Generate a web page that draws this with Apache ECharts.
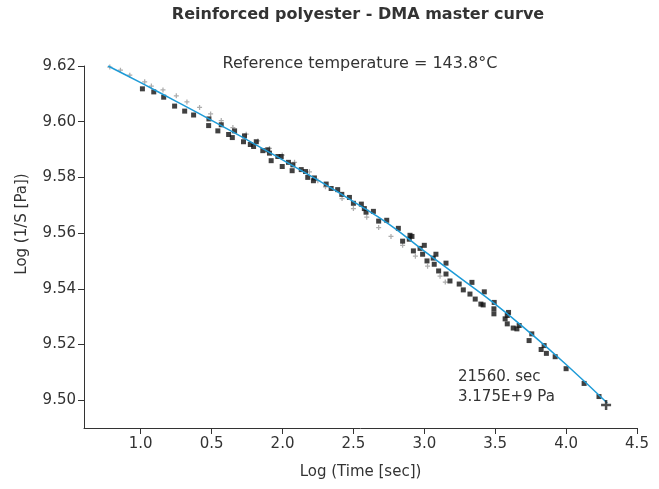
<!DOCTYPE html>
<html>
<head>
<meta charset="utf-8">
<script src="https://cdn.jsdelivr.net/npm/echarts@6/dist/echarts.min.js"></script>
<style>
  html,body{margin:0;padding:0;background:#fff;}
  #chart{width:659px;height:489px;}
</style>
</head>
<body>
<div id="chart"></div>
<script>
// tick labels (the second x label really reads 0.5 in the original)
const xTicks=[1.0,1.5,2.0,2.5,3.0,3.5,4.0,4.5];
const xTickLabels=['1.0','0.5','2.0','2.5','3.0','3.5','4.0','4.5'];
const yTicks=[9.50,9.52,9.54,9.56,9.58,9.60,9.62];

// master curve fit
const fitX=[0.77,1.0,1.25,1.5,1.75,2.0,2.25,2.5,2.75,3.0,3.25,3.5,3.75,4.0,4.29];
const fitY=[9.6200,9.6140,9.6073,9.6005,9.5935,9.5863,9.5790,9.5713,9.5632,9.5535,9.5440,9.5345,9.5240,9.5128,9.4990];

// measured points (squares)
const sqX=[1.012,1.092,1.162,1.239,1.310,1.373,1.481,1.479,1.544,1.568,1.620,1.646,1.662,1.732,1.725,1.773,1.796,1.815,1.861,1.896,
  1.908,1.920,1.967,1.991,1.998,2.042,2.073,2.068,2.132,2.162,2.178,2.225,2.218,2.308,2.343,2.389,2.418,2.472,2.500,2.556,
  2.577,2.589,2.641,2.678,2.735,2.817,2.847,2.899,2.913,2.894,2.923,2.970,3.000,2.988,3.019,3.063,3.082,3.070,3.101,3.153,
  3.153,3.181,3.246,3.275,3.322,3.336,3.359,3.399,3.415,3.423,3.493,3.491,3.491,3.570,3.585,3.594,3.585,3.627,3.653,3.669,
  3.739,3.758,3.824,3.845,3.861,3.923,4.000,4.127,4.232];
const sqY=[9.6118,9.6107,9.6088,9.6056,9.6038,9.6024,9.6010,9.5986,9.5967,9.5989,9.5954,9.5943,9.5967,9.5949,9.5928,9.5918,9.5911,9.5928,9.5896,9.5899,
  9.5887,9.5860,9.5875,9.5875,9.5839,9.5854,9.5845,9.5824,9.5828,9.5821,9.5800,9.5798,9.5788,9.5776,9.5760,9.5756,9.5739,9.5728,9.5707,9.5704,
  9.5688,9.5675,9.5678,9.5643,9.5646,9.5617,9.5571,9.5592,9.5588,9.5578,9.5536,9.5545,9.5556,9.5524,9.5500,9.5510,9.5524,9.5488,9.5464,9.5492,
  9.5453,9.5428,9.5417,9.5396,9.5381,9.5423,9.5363,9.5345,9.5342,9.5389,9.5351,9.5328,9.5310,9.5292,9.5304,9.5315,9.5274,9.5259,9.5256,9.5268,
  9.5214,9.5238,9.5182,9.5196,9.5168,9.5156,9.5113,9.5060,9.5013];

// shifted points (grey crosses)
const crX=[0.782,0.857,0.923,1.028,1.075,1.157,1.251,1.326,1.415,1.493,1.568,1.650,1.744,1.826,1.908,1.998,2.085,2.190,2.249,2.303,
  2.420,2.500,2.594,2.678,2.765,2.847,2.937,3.023,3.111,3.148];
const crY=[9.6196,9.6185,9.6167,9.6143,9.6128,9.6114,9.6093,9.6071,9.6051,9.6028,9.6004,9.5979,9.5955,9.5931,9.5904,9.5880,9.5854,9.5820,9.5788,9.5766,
  9.5724,9.5688,9.5657,9.5620,9.5588,9.5556,9.5517,9.5481,9.5445,9.5424];

// reference point
const refX=[4.282];
const refY=[9.4983];

function pairs(xs,ys){ return xs.map((x,i)=>[x,ys[i]]); }

const font='"DejaVu Sans", Verdana, sans-serif';
const plus='path://M-1,-4H1V-1H4V1H1V4H-1V1H-4V-1H-1Z';

const chart=echarts.init(document.getElementById('chart'),null,{renderer:'canvas'});
const option={
  animation:false,
  backgroundColor:'#fff',
  textStyle:{fontFamily:font},
  grid:{left:84,right:22,top:66,bottom:61},
  xAxis:{
    type:'value',min:0.6,max:4.5,
    axisLine:{onZero:false,lineStyle:{color:'#333',width:1}},
    axisTick:{customValues:xTicks,length:6,lineStyle:{color:'#333'}},
    axisLabel:{customValues:xTicks,color:'#333',fontSize:15,fontFamily:font,margin:9,
      formatter:function(v){ let i=xTicks.findIndex(t=>Math.abs(t-v)<1e-6); return i>=0?xTickLabels[i]:''; }},
    splitLine:{show:false},
    name:'Log (Time [sec])',nameLocation:'middle',nameGap:37,
    nameTextStyle:{color:'#333',fontSize:15,fontFamily:font}
  },
  yAxis:{
    type:'value',min:9.49,max:9.62,
    axisLine:{show:true,onZero:false,lineStyle:{color:'#333',width:1}},
    axisTick:{show:true,customValues:yTicks,length:6,lineStyle:{color:'#333'}},
    axisLabel:{customValues:yTicks,color:'#333',fontSize:15,fontFamily:font,margin:8,
      formatter:function(v){ return v.toFixed(2); }},
    splitLine:{show:false}
  },
  graphic:[
    {type:'text',x:358,y:15,style:{text:'Reinforced polyester - DMA master curve',fill:'#333',font:'bold 16px '+font,align:'center',verticalAlign:'middle'}},
    {type:'text',x:360,y:64,style:{text:'Reference temperature = 143.8°C',fill:'#333',font:'16px '+font,align:'center',verticalAlign:'middle'}},
    {type:'text',x:458,y:377,style:{text:'21560. sec',fill:'#333',font:'15px '+font,verticalAlign:'middle'}},
    {type:'text',x:458,y:397,style:{text:'3.175E+9 Pa',fill:'#333',font:'15px '+font,verticalAlign:'middle'}},
    {type:'text',x:22,y:224,rotation:Math.PI/2,style:{text:'Log (1/S [Pa])',fill:'#333',font:'15px '+font,align:'center',verticalAlign:'middle'}}
  ],
  series:[
    {type:'scatter',data:pairs(crX,crY),symbol:plus,symbolSize:5,itemStyle:{color:'#999'},z:2},
    {type:'scatter',data:pairs(sqX,sqY),symbol:'rect',symbolSize:5,itemStyle:{color:'#111'},z:3},
    {type:'line',data:pairs(fitX,fitY),smooth:true,showSymbol:false,lineStyle:{color:'#1e9bd7',width:1.5},z:4},
    {type:'scatter',data:pairs(refX,refY),symbol:plus,symbolSize:10,itemStyle:{color:'#222'},z:5}
  ]
};
chart.setOption(option);
</script>
</body>
</html>
